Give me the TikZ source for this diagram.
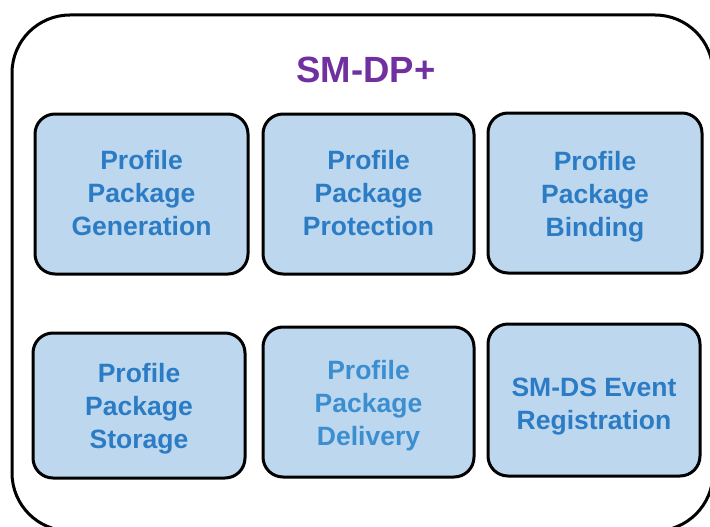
\documentclass[tikz,border=0pt]{standalone}
\usepackage{fontspec}
\setmainfont{Liberation Sans}
\definecolor{boxfill}{HTML}{BDD7EE}
\definecolor{boxtext}{HTML}{2B7CC4}
\definecolor{softtext}{HTML}{3B8ED0}
\definecolor{dpviolet}{HTML}{7030A0}
\begin{document}
\begin{tikzpicture}[x=1pt, y=-1pt,
		modbox/.style={draw=black, line width=3pt, fill=boxfill, rounded corners=20pt, inner sep=0pt},
		modtext/.style={align=center, text=boxtext, font=\fontsize{26.5}{33}\selectfont\bfseries, inner sep=0pt},
		title/.style={text=dpviolet, font=\fontsize{36.5}{40}\selectfont\bfseries}]
		\useasboundingbox (0, 0) rectangle (710, 527);
		\begin{scope}
			\clip (0, 0) rectangle (710, 527);
			\draw[line width=3pt, rounded corners=58pt] (12, 15) rectangle (713, 531);
		\end{scope}
		\node[title] (smdp) at (366, 70) {SM-DP+};
		% upper row
		\node[modbox, minimum width=213pt, minimum height=160pt] (gen) at (141.5, 194) {};
		\node[modbox, minimum width=211pt, minimum height=160pt] (prot) at (368.5, 194) {};
		\node[modbox, minimum width=214pt, minimum height=160pt] (bind) at (595, 193) {};
		% lower row
		\node[modbox, minimum width=212pt, minimum height=145pt] (stor) at (139, 405.5) {};
		\node[modbox, minimum width=211pt, minimum height=150pt] (deliv) at (368.5, 402) {};
		\node[modbox, minimum width=212pt, minimum height=152pt] (smds) at (594, 400) {};
		% texts
		\node[modtext] (gent) at ([yshift=1pt]gen.center) {Profile\\Package\\Generation};
		\node[modtext] (prott) at ([yshift=1pt]prot.center) {Profile\\Package\\Protection};
		\node[modtext] (bindt) at ([yshift=-4pt]bind.center) {Profile\\Package\\Binding};
		\node[modtext] (stort) at ([yshift=-3pt]stor.center) {Profile\\Package\\Storage};
		\node[modtext, text=softtext] (delivt) at ([yshift=-4pt]deliv.center) {Profile\\Package\\Delivery};
		\node[modtext] (smdst) at ([yshift=-6.5pt]smds.center) {SM-DS Event\\Registration};
\end{tikzpicture}
\end{document}
